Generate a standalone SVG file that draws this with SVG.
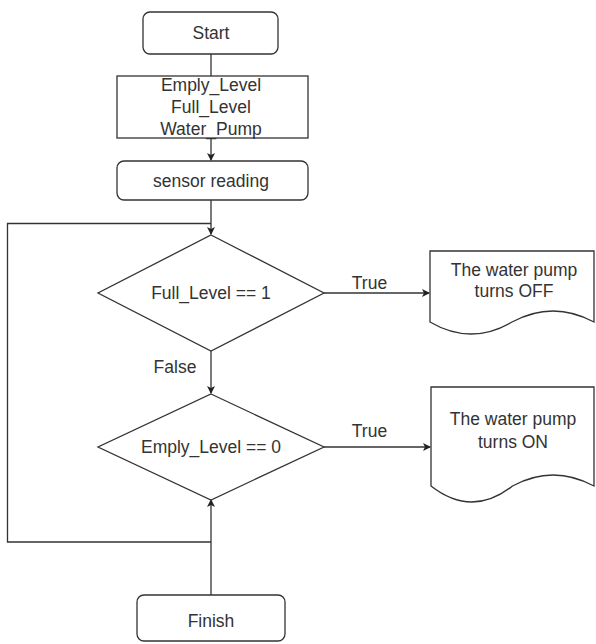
<svg xmlns="http://www.w3.org/2000/svg" width="596" height="644" viewBox="0 0 596 644">
<style>
.s{fill:#fff;stroke:#333;stroke-width:1.3}
.c{fill:none;stroke:#333;stroke-width:1.3}
text{font-family:"Liberation Sans",Arial,sans-serif;font-size:17.5px;fill:#333;text-anchor:middle}
</style>
<defs>
<marker id="a" markerWidth="10" markerHeight="10" refX="7" refY="4" orient="auto" markerUnits="userSpaceOnUse">
<path d="M0,0 L8,4 L0,8 L2,4 Z" fill="#222"/>
</marker>
</defs>
<rect width="596" height="644" fill="#fff"/>
<g id="connectors">
<path class="c" d="M211,54 V76"/>
<path class="c" d="M211,138 V160" marker-end="url(#a)"/>
<path class="c" d="M211,200 V234" marker-end="url(#a)"/>
<path class="c" d="M211,351 V393" marker-end="url(#a)"/>
<path class="c" d="M324,293 H429" marker-end="url(#a)"/>
<path class="c" d="M324,447 H430" marker-end="url(#a)"/>
<path class="c" d="M211,595 V500" marker-end="url(#a)"/>
<path class="c" d="M211,542 H7.5 V223.5 H211"/>
<text x="175" y="373">False</text>
<text x="369.5" y="289">True</text>
<text x="369.5" y="437">True</text>
</g>
<g id="start">
<rect class="s" x="143" y="12" width="135" height="42" rx="7"/>
<text x="211" y="39">Start</text>
</g>
<g id="vars">
<rect class="s" x="117" y="76" width="191" height="62"/>
<text x="211" y="91">Emply_Level</text>
<text x="211" y="113">Full_Level</text>
<text x="211" y="135">Water_Pump</text>
</g>
<g id="sensor">
<rect class="s" x="117" y="161" width="191" height="39" rx="7"/>
<text x="211" y="187">sensor reading</text>
</g>
<g id="full">
<path class="s" d="M211,235 L324,293 L211,351 L98,293 Z"/>
<text x="211" y="299">Full_Level == 1</text>
</g>
<g id="empty">
<path class="s" d="M211,394 L324,447 L211,500 L98,447 Z"/>
<text x="211" y="453">Emply_Level == 0</text>
</g>
<g id="off">
<path class="s" d="M430,251 H594 V322 Q553,300 512,322 Q471,346 430,322 Z"/>
<text x="514" y="276">The water pump</text>
<text x="514" y="297">turns OFF</text>
</g>
<g id="on">
<path class="s" d="M431,387 H594 V486 Q553,464 512.5,486 Q472,518 431,486 Z"/>
<text x="513" y="425">The water pump</text>
<text x="513" y="448">turns ON</text>
</g>
<g id="finish">
<rect class="s" x="137" y="595" width="148" height="46" rx="7"/>
<text x="211" y="627">Finish</text>
</g>
</svg>
